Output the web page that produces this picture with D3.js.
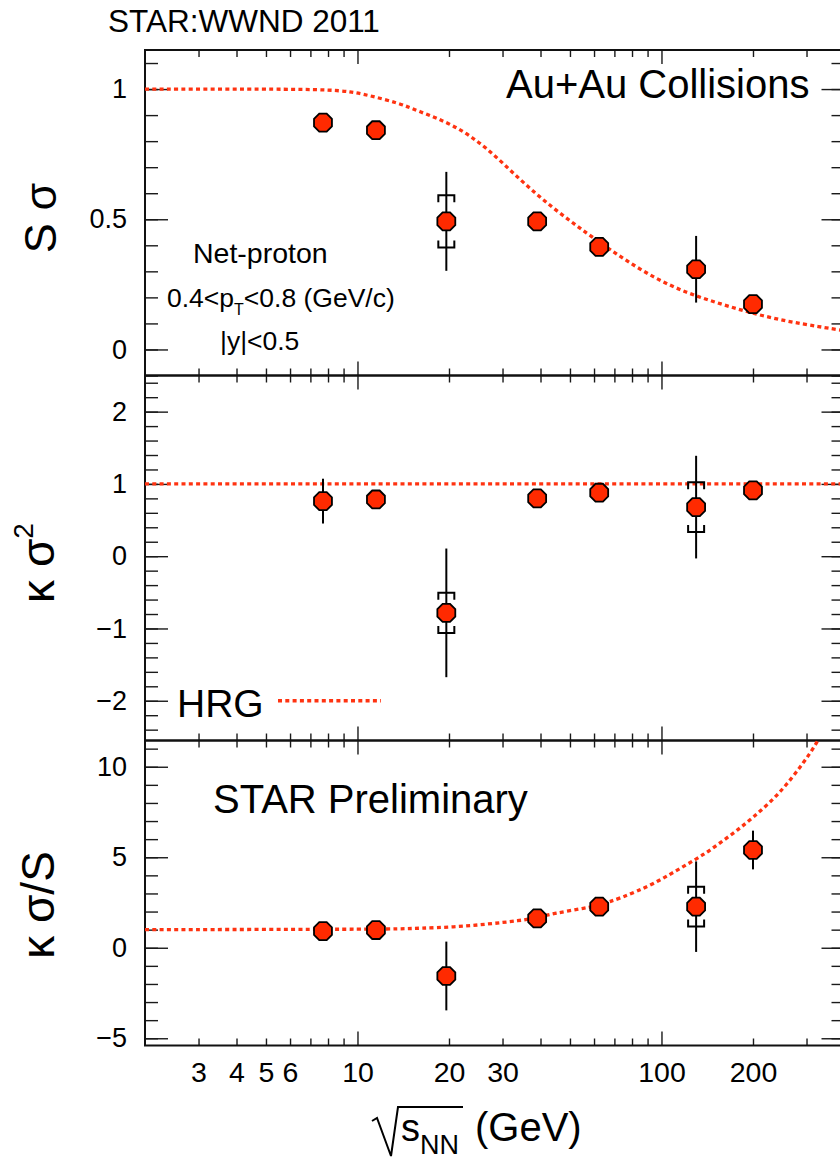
<!DOCTYPE html>
<html>
<head>
<meta charset="utf-8">
<script src="https://cdn.jsdelivr.net/npm/d3@7"></script>
<style>
  body { margin: 0; background: #fff; }
  svg { display: block; }
  text { font-family: "Liberation Sans", Arial, Helvetica, sans-serif; fill: #000; }
</style>
</head>
<body>
<svg id="chart" width="840" height="1161"></svg>
<script>
// Beam energies (GeV) of the measured points
const energies = [7.7, 11.5, 19.6, 39, 62.4, 130, 200];

// S*sigma of net-proton distributions
const sSigma     = [0.871, 0.842, 0.492, 0.492, 0.394, 0.308, 0.174];
const sSigmaStat = [0.02, 0.02, 0.19, 0.02, 0.02, 0.128, 0.02];
const sSigmaSys  = [null, null, 0.10, null, null, null, null];

// kappa*sigma^2
const kSigma2     = [0.762, 0.785, -0.784, 0.80, 0.878, 0.679, 0.91];
const kSigma2Stat = [0.31, 0.08, 0.89, 0.08, 0.08, 0.71, 0.1];
const kSigma2Sys  = [null, null, 0.277, null, null, 0.345, null];

// kappa*sigma/S
const kSigmaS     = [0.92, 0.98, -1.56, 1.62, 2.27, 2.27, 5.4];
const kSigmaSStat = [0.15, 0.15, 1.9, 0.15, 0.15, 2.5, 1.07];
const kSigmaSSys  = [null, null, null, null, null, 1.1, null];

// Hadron resonance gas expectations
const hrgSsigmaE = [2, 6, 8.1, 9.5, 10.7, 13.8, 15.7, 20.7, 26.6, 34.3, 44.1, 56.8, 73, 94, 121, 156, 200, 258, 332, 400];
const hrgSsigma  = [1, 1, 0.997, 0.99, 0.978, 0.945, 0.917, 0.864, 0.777, 0.65, 0.541, 0.446, 0.357, 0.276, 0.217, 0.175, 0.138, 0.108, 0.087, 0.072];
const hrgKSigma2E = [2, 400];
const hrgKSigma2  = [1, 1];
const hrgKSigmaSE = [2, 10, 13.8, 16, 20.7, 26.6, 34.3, 39, 44.1, 56.8, 62.4, 73, 94, 121, 138, 156, 178, 200, 229, 258, 295, 324, 345];
const hrgKSigmaS  = [1.0, 1.02, 1.04, 1.08, 1.14, 1.3, 1.5, 1.66, 1.9, 2.2, 2.36, 2.72, 3.5, 4.6, 5.15, 5.8, 6.5, 7.2, 8.07, 9.0, 10.28, 11.29, 12.2];

// Axis ticks
const xMajorTicks = [10, 100];
const xMinorTicks = [3, 4, 5, 6, 7, 8, 9, 20, 30, 40, 50, 60, 70, 80, 90, 200, 300];
const xTickLabels = [3, 4, 5, 6, 10, 20, 30, 100, 200];
const yLabelsS   = [0, 0.5, 1];
const yLabelsK2  = [-2, -1, 0, 1, 2];
const yLabelsKS  = [-5, 0, 5, 10];

const RED = "#ff2a00";
const CURVE = "#ff3311";
const LEFT = 145, RIGHT = 844.5;

const svg = d3.select("#chart");
const x = d3.scaleLog().domain([2, 400]).range([LEFT, RIGHT]);

const panels = [
  { id: "s",  top: 50,    bottom: 375.5,  domain: [-0.1, 1.15],   labels: yLabelsS,  minorStep: 0.1,
    vals: sSigma, stat: sSigmaStat, sys: sSigmaSys, curveE: hrgSsigmaE, curveV: hrgSsigma },
  { id: "k2", top: 375.5, bottom: 740.5,  domain: [-2.55, 2.5],   labels: yLabelsK2, minorStep: 0.2,
    vals: kSigma2, stat: kSigma2Stat, sys: kSigma2Sys, curveE: hrgKSigma2E, curveV: hrgKSigma2 },
  { id: "ks", top: 740.5, bottom: 1045.5, domain: [-5.4, 11.45],  labels: yLabelsKS, minorStep: 1,
    vals: kSigmaS, stat: kSigmaSStat, sys: kSigmaSSys, curveE: hrgKSigmaSE, curveV: hrgKSigmaS }
];

// Octagonal marker shape
const octagon = {
  draw(context, size) {
    const R = Math.sqrt(size / (2 * Math.SQRT2));
    for (let k = 0; k < 8; k++) {
      const a = Math.PI / 8 + k * Math.PI / 4;
      const px = R * Math.cos(a), py = R * Math.sin(a);
      if (k === 0) context.moveTo(px, py); else context.lineTo(px, py);
    }
    context.closePath();
  }
};
const markerPath = d3.symbol().type(octagon).size(2 * Math.SQRT2 * 9.7 * 9.7)();

function styleTicks(g) {
  g.select(".domain").remove();
  g.selectAll(".tick line").attr("stroke", "#1a1a1a").attr("stroke-width", 1.4);
  g.selectAll(".tick text").remove();
}

panels.forEach((p, i) => {
  const y = d3.scaleLinear().domain(p.domain).range([p.bottom, p.top]);
  const g = svg.append("g").attr("class", "panel-" + p.id);

  const clipId = "clip-" + p.id;
  svg.append("clipPath").attr("id", clipId)
    .append("rect").attr("x", LEFT).attr("y", p.top)
    .attr("width", RIGHT - LEFT).attr("height", p.bottom - p.top);

  // x ticks on bottom and top edges of the frame
  g.append("g").attr("transform", `translate(0,${p.bottom})`)
    .call(d3.axisTop(x).tickValues(xMinorTicks).tickSize(7)).call(styleTicks);
  g.append("g").attr("transform", `translate(0,${p.bottom})`)
    .call(d3.axisTop(x).tickValues(xMajorTicks).tickSize(14)).call(styleTicks);
  g.append("g").attr("transform", `translate(0,${p.top})`)
    .call(d3.axisBottom(x).tickValues(xMinorTicks).tickSize(7)).call(styleTicks);
  g.append("g").attr("transform", `translate(0,${p.top})`)
    .call(d3.axisBottom(x).tickValues(xMajorTicks).tickSize(14)).call(styleTicks);

  // y ticks on left and right edges
  const minorY = d3.range(Math.ceil(p.domain[0] / p.minorStep - 1e-6), Math.floor(p.domain[1] / p.minorStep + 1e-6) + 1)
    .map(k => k * p.minorStep);
  g.append("g").attr("transform", `translate(${LEFT},0)`)
    .call(d3.axisRight(y).tickValues(minorY).tickSize(13)).call(styleTicks);
  g.append("g").attr("transform", `translate(${LEFT},0)`)
    .call(d3.axisRight(y).tickValues(p.labels).tickSize(23)).call(styleTicks);
  g.append("g").attr("transform", `translate(${RIGHT},0)`)
    .call(d3.axisLeft(y).tickValues(minorY).tickSize(13)).call(styleTicks);
  g.append("g").attr("transform", `translate(${RIGHT},0)`)
    .call(d3.axisLeft(y).tickValues(p.labels).tickSize(23)).call(styleTicks);

  // y tick labels
  const yl = g.append("g").attr("transform", `translate(${LEFT},0)`)
    .call(d3.axisLeft(y).tickValues(p.labels).tickSize(0).tickPadding(18).tickFormat(d3.format("")));
  yl.select(".domain").remove();
  yl.attr("font-family", null);
  yl.selectAll("text").attr("font-size", 27).attr("fill", "#000");

  // frame
  g.append("rect").attr("x", LEFT).attr("y", p.top)
    .attr("width", RIGHT - LEFT).attr("height", p.bottom - p.top)
    .attr("fill", "none").attr("stroke", "#111").attr("stroke-width", 2);

  // HRG expectation
  const line = d3.line().x((d, j) => x(p.curveE[j])).y(d => y(d)).curve(d3.curveBasis);
  g.append("path").datum(p.curveV)
    .attr("clip-path", `url(#${clipId})`)
    .attr("d", line)
    .attr("fill", "none").attr("stroke", CURVE).attr("stroke-width", 3.3)
    .attr("stroke-dasharray", "4,3.3");

  // statistical error bars
  g.append("g").selectAll("line").data(p.vals).join("line")
    .attr("x1", (d, j) => x(energies[j])).attr("x2", (d, j) => x(energies[j]))
    .attr("y1", (d, j) => y(d + p.stat[j])).attr("y2", (d, j) => y(d - p.stat[j]))
    .attr("stroke", "#000").attr("stroke-width", 2);

  // systematic brackets
  const sysIdx = p.vals.map((d, j) => j).filter(j => p.sys[j] != null);
  const br = g.append("g");
  sysIdx.forEach(j => {
    const cx = x(energies[j]);
    const yt = y(p.vals[j] + p.sys[j]);
    const yb = y(p.vals[j] - p.sys[j]);
    br.append("path")
      .attr("d", `M${cx - 8},${yt + 7}V${yt}H${cx + 8}V${yt + 7}M${cx - 8},${yb - 7}V${yb}H${cx + 8}V${yb - 7}`)
      .attr("fill", "none").attr("stroke", "#000").attr("stroke-width", 2);
  });

  // markers
  g.append("g").selectAll("path").data(p.vals).join("path")
    .attr("d", markerPath)
    .attr("transform", (d, j) => `translate(${x(energies[j])},${y(d)})`)
    .attr("fill", RED).attr("stroke", "#000").attr("stroke-width", 1.8);

  p.y = y;
});

// x tick labels under the lowest panel
const xl = svg.append("g").attr("transform", `translate(0,${panels[2].bottom})`)
  .call(d3.axisBottom(x).tickValues(xTickLabels).tickSize(0).tickPadding(16).tickFormat(d3.format("")));
xl.select(".domain").remove();
xl.attr("font-family", null);
xl.selectAll("text").attr("font-size", 28.5).attr("fill", "#000");

// x axis title with a drawn root sign
svg.append("path")
  .attr("d", "M372,1121L377,1118L391,1156L398,1107H463")
  .attr("fill", "none").attr("stroke", "#000").attr("stroke-width", 2);
const xt = svg.append("text").attr("x", 401).attr("y", 1141).attr("font-size", 38);
xt.append("tspan").text("s");
xt.append("tspan").attr("font-size", 27).attr("dy", 13).text("NN");
const xu = svg.append("text").attr("x", 475).attr("y", 1141).attr("font-size", 40).text("(GeV)");

// y axis titles
function yTitle(cx, cy, build) {
  const t = svg.append("text").attr("transform", `translate(${cx},${cy}) rotate(-90)`)
    .attr("text-anchor", "middle").attr("font-size", 46);
  build(t);
}
yTitle(56, 218, t => t.attr("font-size", 45).text("S σ"));
yTitle(54, 563, t => {
  t.append("tspan").text("κ σ");
  t.append("tspan").attr("font-size", 28).attr("dy", -21).text("2");
});
yTitle(54, 905, t => t.text("κ σ/S"));

// annotations
svg.append("text").attr("x", 108).attr("y", 32).attr("font-size", 31.5).text("STAR:WWND 2011");
svg.append("text").attr("x", 506).attr("y", 98).attr("font-size", 40).text("Au+Au Collisions");
svg.append("text").attr("x", 193).attr("y", 263).attr("font-size", 28.5).text("Net-proton");
const pt = svg.append("text").attr("x", 167).attr("y", 307).attr("font-size", 26.5);
pt.append("tspan").text("0.4<p");
pt.append("tspan").attr("font-size", 16).attr("dy", 8).text("T");
pt.append("tspan").attr("dy", -8).text("<0.8 (GeV/c)");
svg.append("text").attr("x", 220).attr("y", 350).attr("font-size", 26.5).text("|y|<0.5");
svg.append("text").attr("x", 213).attr("y", 813).attr("font-size", 40).text("STAR Preliminary");

// legend
const yK2 = panels[1].y;
svg.append("text").attr("x", 177).attr("y", 717).attr("font-size", 39).text("HRG");
svg.append("line").attr("x1", 278).attr("x2", 381).attr("y1", yK2(-2)).attr("y2", yK2(-2))
  .attr("stroke", CURVE).attr("stroke-width", 3.3).attr("stroke-dasharray", "4,3.3");
</script>
</body>
</html>
